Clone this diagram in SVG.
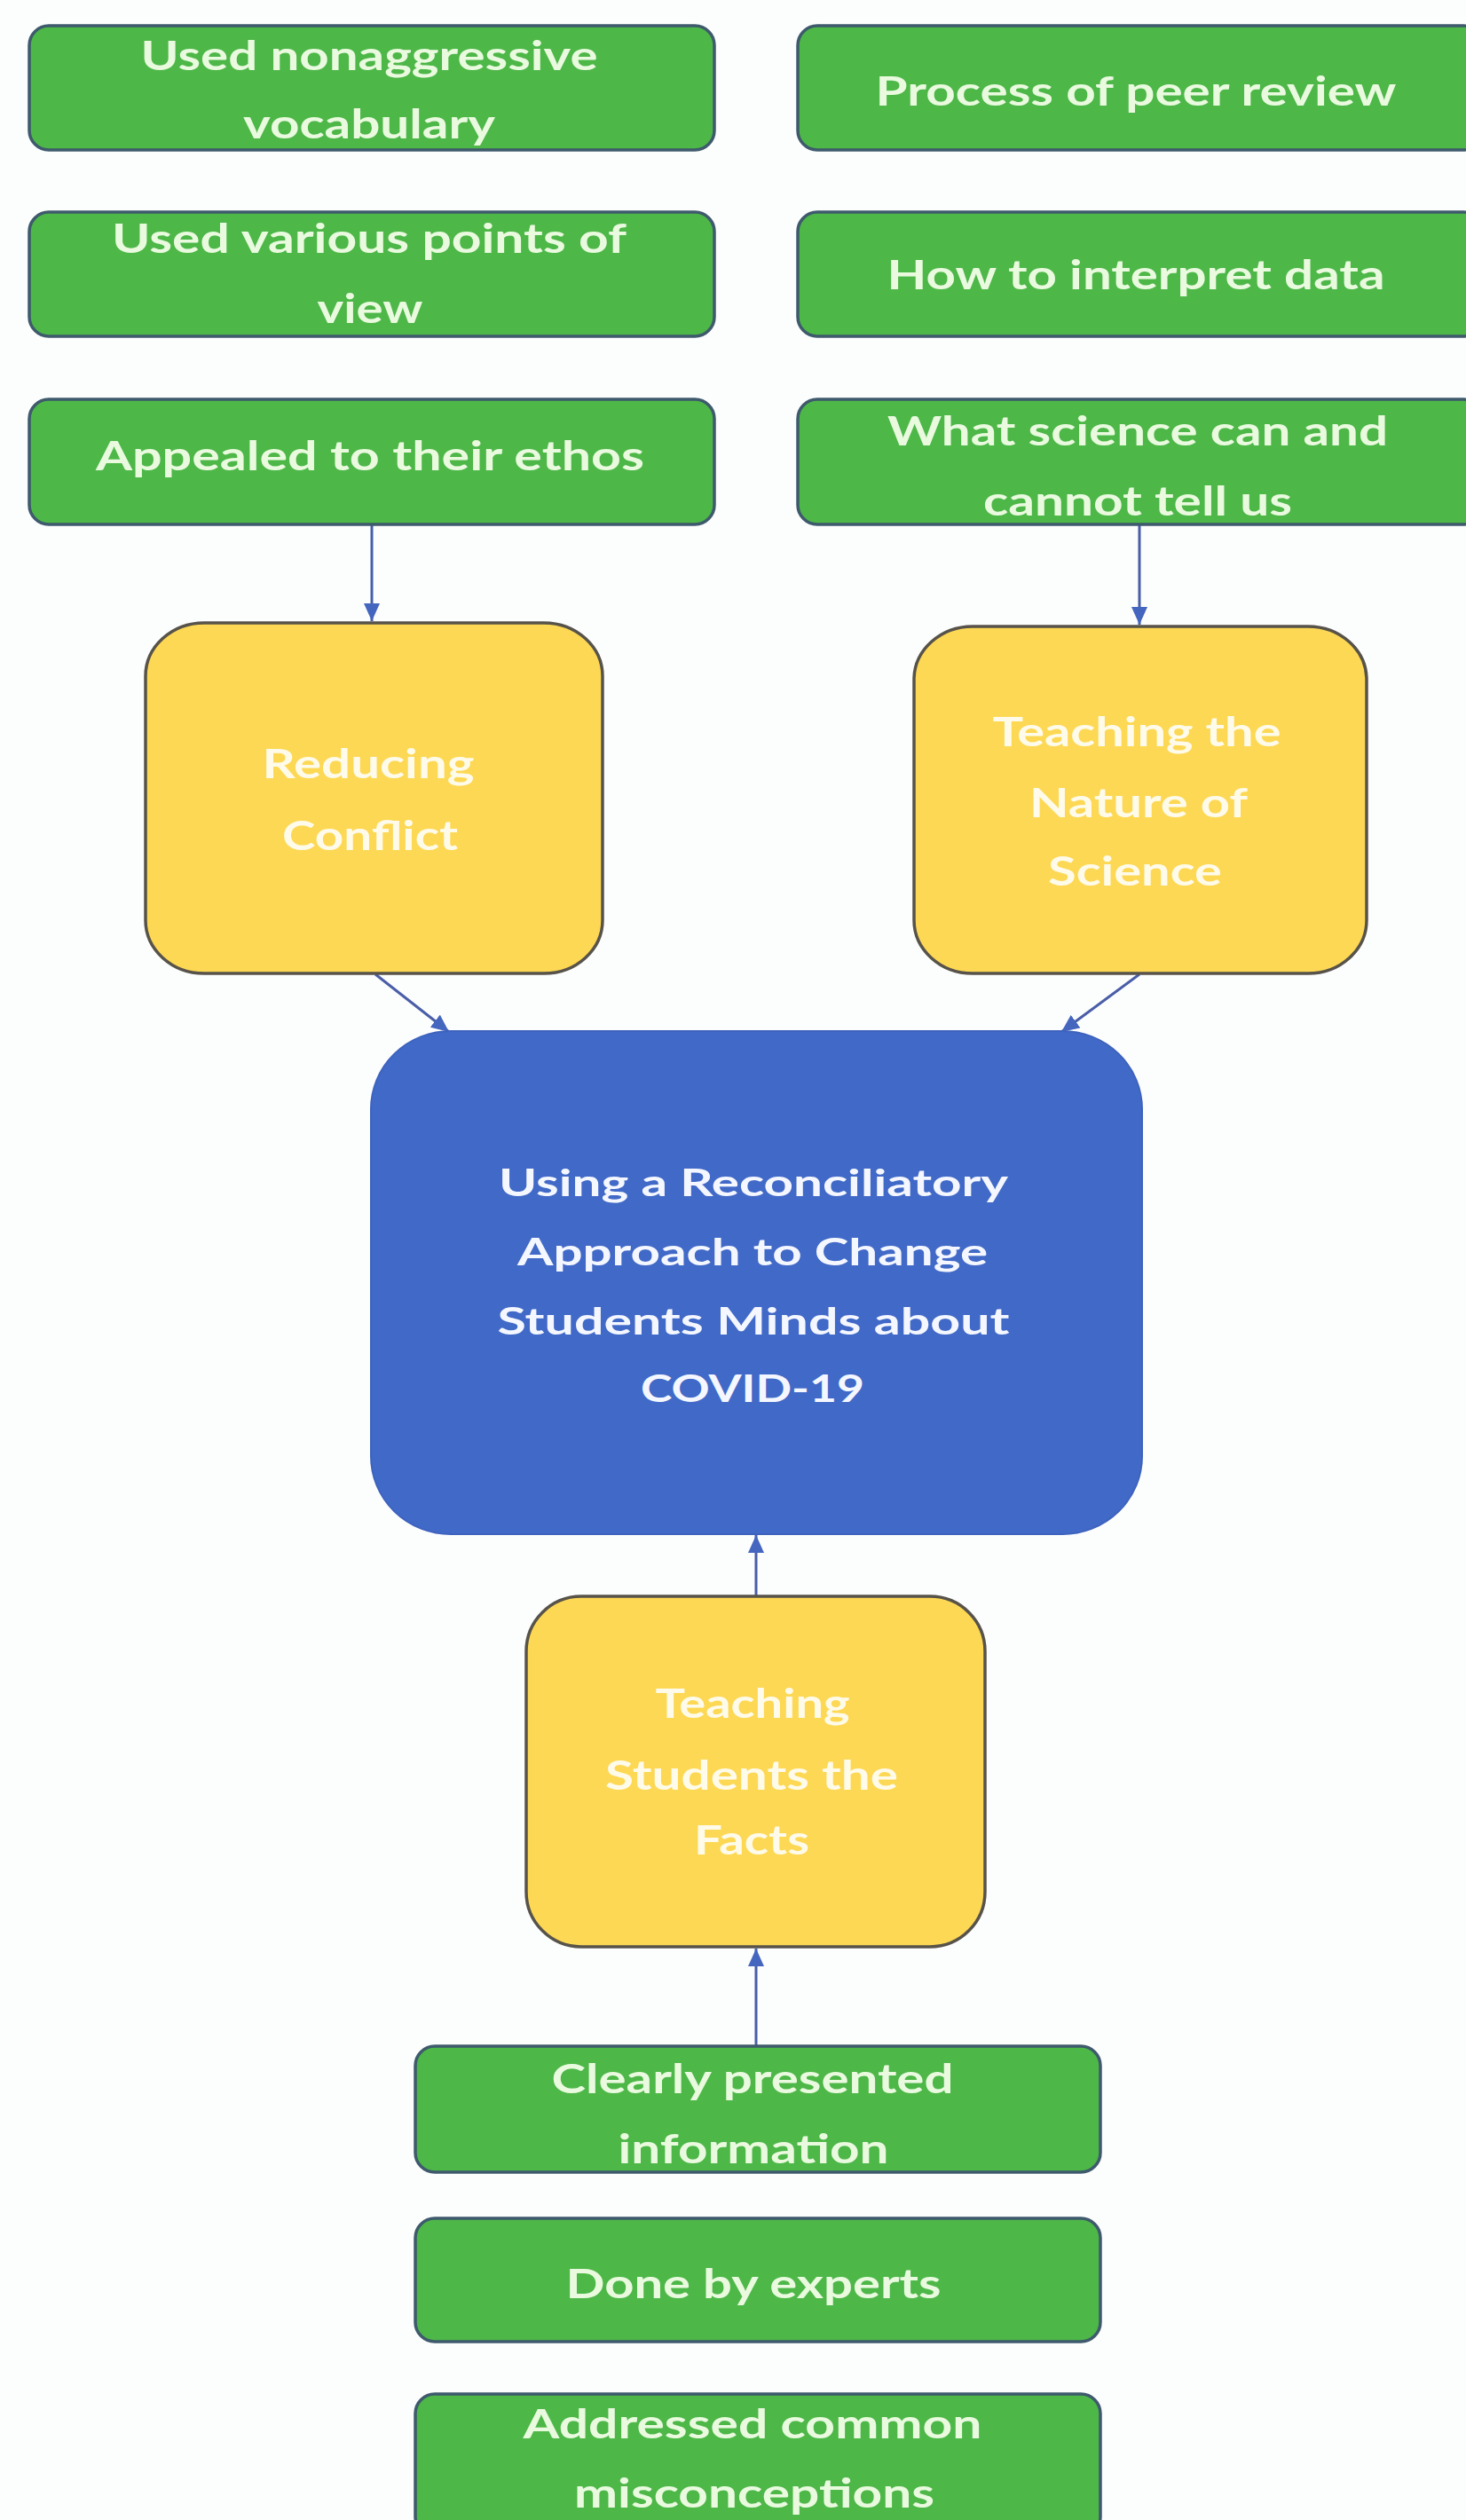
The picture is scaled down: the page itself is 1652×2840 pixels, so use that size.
<svg xmlns="http://www.w3.org/2000/svg" width="1652" height="2840" viewBox="0 0 1652 2840">
<defs>
<style>
.g{fill:#4DB748;stroke:#3E5A6C;stroke-width:3.5}
.y{fill:#FDD854;stroke:#57534A;stroke-width:3.5}
.b{fill:#4169C7;stroke:#3E63BE;stroke-width:2}
text{font-family:"Lato","Open Sans","Liberation Sans",sans-serif;text-anchor:middle;font-size:45px;font-weight:bold}
.gt{fill:#E9FADF}
.yt{fill:#FFFBEA}
.bt{fill:#F4F7FF;font-size:42px}
.c{stroke:#4A5EA8;stroke-width:3;fill:none}
</style>
<marker id="ah" markerUnits="userSpaceOnUse" markerWidth="20" markerHeight="18" viewBox="0 0 20 18" refX="20" refY="9" orient="auto">
<path d="M0,0 L20,9 L0,18 Z" fill="#4566BE"/>
</marker>
</defs>
<rect width="1652" height="2840" fill="#FCFDFD"/>
<g id="connectors">
<line class="c" x1="419" y1="591" x2="419" y2="700" marker-end="url(#ah)"/>
<line class="c" x1="1284" y1="591" x2="1284" y2="704" marker-end="url(#ah)"/>
<line class="c" x1="423" y1="1098" x2="506" y2="1163" marker-end="url(#ah)"/>
<line class="c" x1="1284" y1="1098" x2="1196" y2="1163" marker-end="url(#ah)"/>
<line class="c" x1="852" y1="1799" x2="852" y2="1730" marker-end="url(#ah)"/>
<line class="c" x1="852" y1="2306" x2="852" y2="2196" marker-end="url(#ah)"/>
</g>
<g id="n-vocab">
<rect class="g" x="33" y="29" width="772" height="140" rx="22"/>
<text class="gt" x="416" y="79" textLength="515" lengthAdjust="spacingAndGlyphs">Used nonaggressive</text>
<text class="gt" x="416" y="156" textLength="284" lengthAdjust="spacingAndGlyphs">vocabulary</text>
</g>
<g id="n-views">
<rect class="g" x="33" y="239" width="772" height="140" rx="22"/>
<text class="gt" x="416" y="285" textLength="580" lengthAdjust="spacingAndGlyphs">Used various points of</text>
<text class="gt" x="417" y="364" textLength="119" lengthAdjust="spacingAndGlyphs">view</text>
</g>
<g id="n-ethos">
<rect class="g" x="33" y="450" width="772" height="141" rx="22"/>
<text class="gt" x="417" y="530" textLength="618" lengthAdjust="spacingAndGlyphs">Appealed to their ethos</text>
</g>
<g id="n-peer">
<rect class="g" x="899" y="29" width="772" height="140" rx="22"/>
<text class="gt" x="1280" y="119" textLength="587" lengthAdjust="spacingAndGlyphs">Process of peer review</text>
</g>
<g id="n-data">
<rect class="g" x="899" y="239" width="772" height="140" rx="22"/>
<text class="gt" x="1280" y="326" textLength="561" lengthAdjust="spacingAndGlyphs">How to interpret data</text>
</g>
<g id="n-science">
<rect class="g" x="899" y="450" width="772" height="141" rx="22"/>
<text class="gt" x="1282" y="502" textLength="564" lengthAdjust="spacingAndGlyphs">What science can and</text>
<text class="gt" x="1282" y="581" textLength="348" lengthAdjust="spacingAndGlyphs">cannot tell us</text>
</g>
<g id="n-conflict">
<rect class="y" x="164" y="702" width="515" height="395" rx="66" ry="60"/>
<text class="yt" x="415" y="877" textLength="239" lengthAdjust="spacingAndGlyphs">Reducing</text>
<text class="yt" x="417" y="958" textLength="198" lengthAdjust="spacingAndGlyphs">Conflict</text>
</g>
<g id="n-nature">
<rect class="y" x="1030" y="706" width="510" height="391" rx="66" ry="60"/>
<text class="yt" x="1281" y="841" textLength="325" lengthAdjust="spacingAndGlyphs">Teaching the</text>
<text class="yt" x="1283" y="921" textLength="246" lengthAdjust="spacingAndGlyphs">Nature of</text>
<text class="yt" x="1279" y="998" textLength="196" lengthAdjust="spacingAndGlyphs">Science</text>
</g>
<g id="n-main">
<rect class="b" x="418" y="1162" width="869" height="567" rx="90" ry="88"/>
<text class="bt" x="849" y="1348" textLength="574" lengthAdjust="spacingAndGlyphs">Using a Reconciliatory</text>
<text class="bt" x="848" y="1426" textLength="530" lengthAdjust="spacingAndGlyphs">Approach to Change</text>
<text class="bt" x="849" y="1504" textLength="577" lengthAdjust="spacingAndGlyphs">Students Minds about</text>
<text class="bt" x="848" y="1580" textLength="252" lengthAdjust="spacingAndGlyphs">COVID-19</text>
</g>
<g id="n-facts">
<rect class="y" x="593" y="1799" width="517" height="395" rx="62" ry="62"/>
<text class="yt" x="848" y="1936" textLength="219" lengthAdjust="spacingAndGlyphs">Teaching</text>
<text class="yt" x="847" y="2017" textLength="330" lengthAdjust="spacingAndGlyphs">Students the</text>
<text class="yt" x="847" y="2090" textLength="130" lengthAdjust="spacingAndGlyphs">Facts</text>
</g>
<g id="n-clearly">
<rect class="g" x="468" y="2306" width="772" height="142" rx="22"/>
<text class="gt" x="848" y="2359" textLength="453" lengthAdjust="spacingAndGlyphs">Clearly presented</text>
<text class="gt" x="849" y="2438" textLength="305" lengthAdjust="spacingAndGlyphs">information</text>
</g>
<g id="n-experts">
<rect class="g" x="468" y="2500" width="772" height="139" rx="22"/>
<text class="gt" x="849" y="2590" textLength="423" lengthAdjust="spacingAndGlyphs">Done by experts</text>
</g>
<g id="n-misconceptions">
<rect class="g" x="468" y="2698" width="772" height="160" rx="22"/>
<text class="gt" x="848" y="2748" textLength="517" lengthAdjust="spacingAndGlyphs">Addressed common</text>
<text class="gt" x="850" y="2826" textLength="406" lengthAdjust="spacingAndGlyphs">misconceptions</text>
</g>
</svg>
